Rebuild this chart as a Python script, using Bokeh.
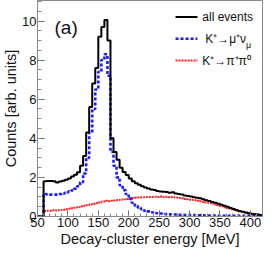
import numpy as np
from bokeh.plotting import figure
from bokeh.models import Label, Range1d, FixedTicker
from bokeh.embed import file_html
from bokeh.resources import INLINE

# ---- data: 5 MeV bins, left edges 50, 55, ..., 415 ----
bin_start = 50
bin_width = 5

all_events = [
    0.00, 0.00,
    1.80, 1.82, 1.81, 1.80, 1.74, 1.79, 1.83, 1.88, 1.95, 2.04,
    2.14, 2.26, 2.60, 3.10, 4.30, 5.60, 6.80, 7.60, 9.20, 9.70,
    10.05, 9.00, 4.00, 3.30, 2.90, 2.50, 2.28, 2.12, 1.95, 1.80,
    1.70, 1.62, 1.55, 1.48, 1.43, 1.38, 1.35, 1.31, 1.28, 1.26,
    1.25, 1.21, 1.24, 1.18, 1.15, 1.12, 1.08, 1.05, 1.02, 0.99,
    0.96, 0.93, 0.88, 0.83, 0.79, 0.74, 0.70, 0.65, 0.60, 0.55,
    0.50, 0.44, 0.39, 0.33, 0.28, 0.24, 0.20, 0.17, 0.14, 0.12,
    0.10, 0.08,
]

k_mu_nu = [
    0.00, 0.00,
    1.15, 1.13, 1.12, 1.12, 1.12, 1.15, 1.18, 1.22, 1.27, 1.33,
    1.42, 1.55, 1.75, 2.20, 3.00, 4.30, 5.50, 6.50, 7.40, 8.00,
    8.30, 7.20, 3.30, 2.60, 2.00, 1.60, 1.35, 1.15, 0.90, 0.70,
    0.55, 0.45, 0.37, 0.30, 0.26, 0.22, 0.19, 0.17, 0.15, 0.13,
    0.12, 0.11, 0.10, 0.10, 0.09, 0.09, 0.08, 0.08, 0.07, 0.07,
    0.06, 0.06, 0.06, 0.05, 0.05, 0.05, 0.05, 0.04, 0.04, 0.04,
    0.04, 0.04, 0.03, 0.03, 0.03, 0.03, 0.03, 0.03, 0.02, 0.02,
    0.02, 0.02,
]

k_pi_pi0 = [
    0.00, 0.00,
    0.28, 0.30, 0.30, 0.32, 0.31, 0.33, 0.35, 0.37, 0.40, 0.42,
    0.45, 0.48, 0.52, 0.55, 0.58, 0.62, 0.65, 0.68, 0.72, 0.75,
    0.80, 0.78, 0.80, 0.82, 0.84, 0.86, 0.88, 0.90, 0.93, 0.95,
    0.96, 0.97, 0.98, 0.99, 1.00, 1.00, 1.01, 1.00, 1.02, 1.00,
    1.01, 0.99, 1.00, 0.97, 0.95, 0.93, 0.90, 0.88, 0.86, 0.84,
    0.80, 0.78, 0.76, 0.72, 0.70, 0.66, 0.62, 0.58, 0.53, 0.48,
    0.44, 0.40, 0.35, 0.31, 0.27, 0.23, 0.19, 0.16, 0.13, 0.11,
    0.09, 0.07,
]

x_ticks = [50, 100, 150, 200, 250, 300, 350, 400]
y_ticks = [0, 2, 4, 6, 8, 10]
x_range = (50, 420)
y_range = (0, 11.05)

legend_labels = ["all events", "K\u207a\u2192\u03bc\u207a\u03bd", "K\u207a\u2192\u03c0\u207a\u03c0\u2070"]
legend_sub = "\u03bc"

FONT = "Liberation Sans"
GRAY = "#8a8a8a"

edges = bin_start + bin_width * np.arange(len(all_events) + 1)

p = figure(width=263, height=249, output_backend="svg", toolbar_location=None,
           x_range=Range1d(*x_range), y_range=Range1d(*y_range),
           min_border_left=0, min_border_right=1, min_border_top=0, min_border_bottom=0)
p.background_fill_color = "white"
p.border_fill_color = "white"
p.outline_line_color = GRAY
p.outline_line_width = 1
p.xgrid.visible = False
p.ygrid.visible = False

def step_y(vals):
    return np.append(np.asarray(vals, dtype=float), vals[-1])

p.step(x=edges, y=step_y(k_pi_pi0), mode="after", line_color="#ff2020",
       line_width=2, line_dash="2 1")
p.step(x=edges, y=step_y(k_mu_nu), mode="after", line_color="#1a1aff",
       line_width=2.6, line_dash="3 2")
p.step(x=edges, y=step_y(all_events), mode="after", line_color="black",
       line_width=2)

for ax in (p.xaxis[0], p.yaxis[0]):
    ax.axis_line_color = GRAY
    ax.major_tick_line_color = "#666666"
    ax.minor_tick_line_color = "#888888"
    ax.major_tick_out = 0
    ax.minor_tick_out = 0
    ax.major_label_text_font = FONT
    ax.major_label_text_font_size = "13px"
    ax.major_label_text_color = "#111111"
    ax.axis_label_text_font = FONT
    ax.axis_label_text_font_size = "14.5px"
    ax.axis_label_text_font_style = "normal"
    ax.axis_label_text_color = "#111111"

p.xaxis.ticker = FixedTicker(ticks=x_ticks, minor_ticks=list(range(50, 421, 10)))
p.yaxis.ticker = FixedTicker(ticks=y_ticks, minor_ticks=[i * 0.5 for i in range(23)])
p.xaxis.major_tick_in = 6
p.xaxis.minor_tick_in = 3
p.yaxis.major_tick_in = 7
p.yaxis.minor_tick_in = 4
p.xaxis.major_label_standoff = 1
p.yaxis.major_label_standoff = 1
p.xaxis.axis_label_standoff = 1
p.yaxis.axis_label_standoff = 0
p.xaxis.axis_label = "Decay-cluster energy [MeV]"
p.yaxis.axis_label = "Counts [arb. units]"

# panel tag
p.add_layout(Label(x=78, y=9.67, text="(a)", text_font=FONT, text_font_size="19px",
                   text_color="#111111", text_baseline="middle"))

# legend (drawn by hand, ROOT-style)
leg_x0, leg_x1, leg_tx = 277, 313, 321
leg_rows = [10.2, 9.09, 7.98]
styles = [dict(line_color="black", line_width=2),
          dict(line_color="#1a1aff", line_width=2.6, line_dash="3 2"),
          dict(line_color="#ff2020", line_width=2, line_dash="2 1")]
for i, (lab, yy, st) in enumerate(zip(legend_labels, leg_rows, styles)):
    p.line(x=[leg_x0, leg_x1], y=[yy, yy], **st)
    if i == 1:
        # right-align so that the subscript sits right after the nu
        p.add_layout(Label(x=393, y=yy, text=lab, text_font=FONT, text_font_size="12px",
                           text_color="#111111", text_baseline="middle", text_align="right"))
        p.add_layout(Label(x=393, y=yy - 0.3, text=legend_sub, text_font=FONT,
                           text_font_size="9px", text_color="#111111",
                           text_baseline="middle", text_align="left"))
    else:
        p.add_layout(Label(x=leg_tx, y=yy, text=lab, text_font=FONT, text_font_size="12px",
                           text_color="#111111", text_baseline="middle"))

open("out.html", "w").write(file_html(p, INLINE))
